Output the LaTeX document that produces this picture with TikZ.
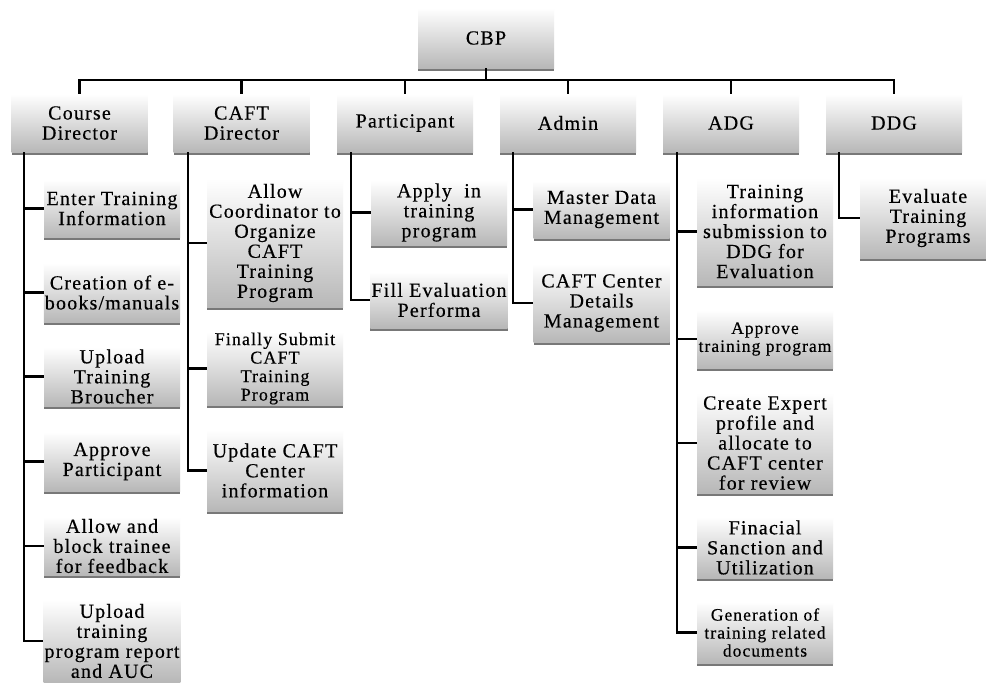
\documentclass[tikz,border=0pt]{standalone}
\usepackage{fontspec}
\setmainfont{Liberation Serif}[LetterSpace=6,FakeBold=0.4]
\usetikzlibrary{shadows}
\tikzset{
  box/.style={rectangle, top color=white, bottom color=black!28, draw=none,
    minimum width=136pt, inner xsep=1pt, inner ysep=0pt, align=center,
    font=\fontsize{20}{20}\selectfont,
    drop shadow={shadow xshift=0pt, shadow yshift=-3pt, opacity=0.7, fill=black!75}},
  smalltext/.style={font=\fontsize{17.5}{18}\selectfont},
  conn/.style={line width=2.2pt, black},
}
\begin{document}
\begin{tikzpicture}[x=1pt,y=-1pt]
\useasboundingbox[fill=white] (0,0) rectangle (986,683);
% root
\node[box, minimum height=60pt] (cbp) at (486,38) {CBP};
% level 1
\node[box, minimum height=58pt] (cd) at (79.5,123) {Course\\Director};
\node[box, minimum height=58pt] (caft) at (241.5,123) {CAFT\\Director};
\node[box, minimum height=58pt] (part) at (405,123) {Participant};
\node[box, minimum height=58pt] (adm) at (568,123) {Admin};
\node[box, minimum height=58pt] (adg) at (731,123) {ADG};
\node[box, minimum height=58pt] (ddg) at (894,123) {DDG};
% Course Director children
\node[box, minimum height=57pt] (e1) at (112,208.5) {Enter Training\\Information};
\node[box, minimum height=59pt] (e2) at (112,292.5) {Creation of e-\\books/manuals};
\node[box, minimum height=59pt] (e3) at (112,376.5) {Upload\\Training\\Broucher};
\node[box, minimum height=59pt] (e4) at (112,461.5) {Approve\\Participant};
\node[box, minimum height=58pt] (e5) at (112,546) {Allow and\\block trainee\\for feedback};
\node[box, minimum height=82pt] (e6) at (112,641) {Upload\\training\\program report\\and AUC};
% CAFT Director children
\node[box, minimum height=128pt] (c1) at (275,243) {Allow\\Coordinator to\\Organize\\CAFT\\Training\\Program};
\node[box, minimum height=73pt, font=\fontsize{18}{18.5}\selectfont] (c2) at (275,368.5) {Finally Submit\\CAFT\\Training\\Program};
\node[box, minimum height=81pt] (c3) at (275,470.5) {Update CAFT\\Center\\information};
% Participant children
\node[box, minimum height=65pt] (p1) at (439,212.5) {Apply\ \ in\\training\\program};
\node[box, minimum height=56pt] (p2) at (439,300) {Fill Evaluation\\Performa};
% Admin children
\node[box, minimum height=57pt] (a1) at (601.5,209.5) {Master Data\\Management};
\node[box, minimum height=78pt] (a2) at (601.5,303) {CAFT Center\\Details\\Management};
% ADG children
\node[box, minimum height=107pt] (g1) at (765,231.5) {Training\\information\\submission to\\DDG for\\Evaluation};
\node[box, smalltext, minimum height=58pt] (g2) at (765,339) {Approve\\training program};
\node[box, minimum height=100pt] (g3) at (765,443) {Create Expert\\profile and\\allocate to\\CAFT center\\for review};
\node[box, minimum height=61pt] (g4) at (765,547.5) {Finacial\\Sanction and\\Utilization};
\node[box, smalltext, minimum height=61pt] (g5) at (765,632.5) {Generation of\\training related\\documents};
% DDG child
\node[box, minimum height=80pt] (d1) at (928,218) {Evaluate\\Training\\Programs};
% top bus
\coordinate (bus) at (486,80);
\foreach \n in {cd,caft,part,adm,adg,ddg}
  \draw[conn] (cbp.south) -- (bus) -| (\n.north);
% branches
\foreach \n in {e1,e2,e3,e4,e5,e6}
  \draw[conn] ([xshift=13pt]cd.south west) |- (\n.west);
\foreach \n in {c1,c2,c3}
  \draw[conn] ([xshift=15pt]caft.south west) |- (\n.west);
\foreach \n in {p1,p2}
  \draw[conn] ([xshift=14pt]part.south west) |- (\n.west);
\foreach \n in {a1,a2}
  \draw[conn] ([xshift=13pt]adm.south west) |- (\n.west);
\foreach \n in {g1,g2,g3,g4,g5}
  \draw[conn] ([xshift=14pt]adg.south west) |- (\n.west);
\draw[conn] ([xshift=13pt]ddg.south west) |- (d1.west);
\end{tikzpicture}
\end{document}
